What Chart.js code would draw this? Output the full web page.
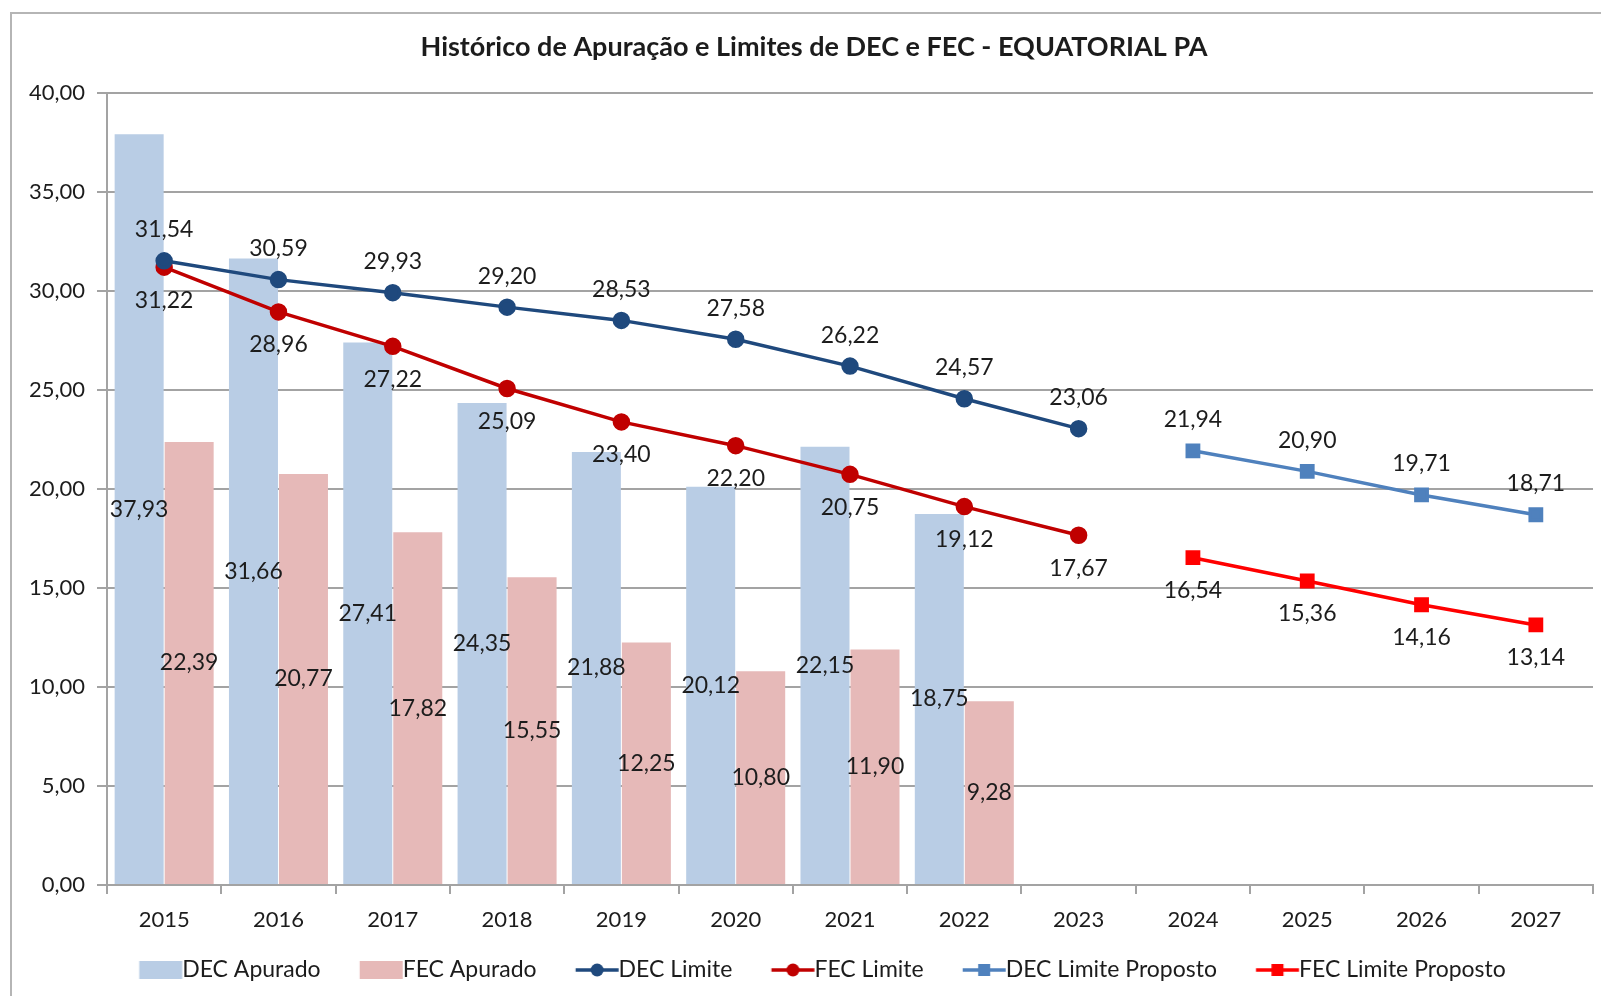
<!DOCTYPE html>
<html>
<head>
<meta charset="utf-8">
<script src="https://cdn.jsdelivr.net/npm/chart.js@4.4.1/dist/chart.umd.min.js"></script>
<style>
  html, body { margin: 0; padding: 0; overflow: hidden; background: #fff; }
  #wrap { width: 1628px; height: 996px; }
</style>
</head>
<body>
<div id="wrap"><canvas id="chart" width="1628" height="996"></canvas></div>
<script>
const years = ['2015','2016','2017','2018','2019','2020','2021','2022','2023','2024','2025','2026','2027'];
const decApurado = [37.93, 31.66, 27.41, 24.35, 21.88, 20.12, 22.15, 18.75, null, null, null, null, null];
const fecApurado = [22.39, 20.77, 17.82, 15.55, 12.25, 10.80, 11.90, 9.28, null, null, null, null, null];
const decLimite = [31.54, 30.59, 29.93, 29.20, 28.53, 27.58, 26.22, 24.57, 23.06, null, null, null, null];
const fecLimite = [31.22, 28.96, 27.22, 25.09, 23.40, 22.20, 20.75, 19.12, 17.67, null, null, null, null];
const decProposto = [null, null, null, null, null, null, null, null, null, 21.94, 20.90, 19.71, 18.71];
const fecProposto = [null, null, null, null, null, null, null, null, null, 16.54, 15.36, 14.16, 13.14];
const yTicks = [0, 5, 10, 15, 20, 25, 30, 35, 40];

const FONT = 'Lato';
const TEXT = '#1c1c1c';
const GRID = '#a3a3a3';

const fmt = v => v.toFixed(2).replace('.', ',');

// legend icons: filled box for bars, line + marker for lines
// the visible part is 43px wide and sits at an offset inside a wider canvas,
// so the label text starts just after it
function icon(kind, color) {
  const c = document.createElement('canvas');
  c.width = 80; c.height = 18;
  const g = c.getContext('2d');
  const a = 32.75;
  g.fillStyle = color; g.strokeStyle = color;
  if (kind === 'box') {
    g.fillRect(a, 0, 43, 18);
  } else {
    g.lineWidth = 3.5;
    g.beginPath(); g.moveTo(a, 9); g.lineTo(a + 43, 9); g.stroke();
    if (kind === 'circle') {
      g.beginPath(); g.arc(a + 21.5, 9, 6.5, 0, Math.PI * 2); g.fill();
    } else {
      g.fillRect(a + 15.5, 3, 12, 12);
    }
  }
  return c;
}

const labelPos = ['center', 'center', 'above', 'below', 'above', 'below'];

const valueLabels = {
  id: 'valueLabels',
  afterDatasetsDraw(chart) {
    const ctx = chart.ctx;
    ctx.save();
    ctx.font = '23px ' + FONT;
    ctx.fillStyle = TEXT;
    ctx.textAlign = 'center';
    ctx.textBaseline = 'middle';
    chart.data.datasets.forEach((ds, i) => {
      chart.getDatasetMeta(i).data.forEach((el, j) => {
        const v = ds.data[j];
        if (v == null) return;
        let y;
        if (labelPos[i] === 'center') y = (el.y + el.base) / 2;
        else if (labelPos[i] === 'above') y = el.y - 31;
        else y = el.y + 33;
        ctx.fillText(fmt(v), el.x, y);
      });
    });
    ctx.restore();
  }
};

const frame = {
  id: 'frame',
  beforeDraw(chart) {
    const ctx = chart.ctx;
    ctx.save();
    ctx.fillStyle = '#fff';
    ctx.fillRect(0, 0, chart.width, chart.height);
    ctx.strokeStyle = '#b5b5b5';
    ctx.lineWidth = 2;
    ctx.strokeRect(11, 13, 2000, 2000);
    ctx.restore();
  }
};

const icons = [
  icon('box', '#b9cde5'),
  icon('box', '#e6b9b8'),
  icon('circle', '#1f497d'),
  icon('circle', '#c00000'),
  icon('square', '#4f81bd'),
  icon('square', '#ff0000')
];

new Chart(document.getElementById('chart'), {
  type: 'bar',
  data: {
    labels: years,
    datasets: [
      { label: 'DEC Apurado', data: decApurado, backgroundColor: '#b9cde5', order: 2,
        categoryPercentage: 0.875, barPercentage: 0.98 },
      { label: 'FEC Apurado', data: fecApurado, backgroundColor: '#e6b9b8', order: 2,
        categoryPercentage: 0.875, barPercentage: 0.98 },
      { type: 'line', label: 'DEC Limite', data: decLimite, borderColor: '#1f497d', backgroundColor: '#1f497d',
        borderWidth: 3.5, pointRadius: 7, pointStyle: 'circle', order: 1 },
      { type: 'line', label: 'FEC Limite', data: fecLimite, borderColor: '#c00000', backgroundColor: '#c00000',
        borderWidth: 3.5, pointRadius: 7, pointStyle: 'circle', order: 1 },
      { type: 'line', label: 'DEC Limite Proposto', data: decProposto, borderColor: '#4f81bd', backgroundColor: '#4f81bd',
        borderWidth: 3.5, pointRadius: 8, pointStyle: 'rect', order: 1 },
      { type: 'line', label: 'FEC Limite Proposto', data: fecProposto, borderColor: '#ff0000', backgroundColor: '#ff0000',
        borderWidth: 3.5, pointRadius: 8, pointStyle: 'rect', order: 1 }
    ]
  },
  options: {
    responsive: false,
    animation: false,
    layout: { padding: { top: 0, left: 0, right: 0, bottom: 4.5 } },
    plugins: {
      tooltip: { enabled: false },
      title: {
        display: true,
        text: 'Histórico de Apuração e Limites de DEC e FEC - EQUATORIAL PA',
        color: TEXT,
        font: { family: FONT, size: 27, weight: 'bold' },
        padding: { top: 31, bottom: 30 }
      },
      legend: {
        position: 'bottom',
        labels: {
          color: TEXT,
          font: { family: FONT, size: 23 },
          usePointStyle: true,
          pointStyleWidth: 48.5,
          padding: 22,
          generateLabels: chart => chart.data.datasets.map((ds, i) => ({
            text: ds.label,
            pointStyle: icons[i],
            fillStyle: 'transparent',
            strokeStyle: 'transparent',
            lineWidth: 0,
            fontColor: TEXT,
            datasetIndex: i
          }))
        }
      }
    },
    scales: {
      x: {
        grid: { offset: true, drawOnChartArea: false, drawTicks: true, tickLength: 9, color: GRID, lineWidth: 2 },
        border: { color: GRID, width: 2 },
        ticks: { color: TEXT, font: { family: FONT, size: 22 }, padding: 13 },
        afterFit: s => { s.height = 51.5; }
      },
      y: {
        min: 0, max: 40,
        afterBuildTicks: s => { s.ticks = yTicks.map(v => ({ value: v })); },
        grid: { color: GRID, lineWidth: 2, tickLength: 10 },
        border: { color: GRID, width: 2 },
        ticks: { color: TEXT, font: { family: FONT, size: 22 }, padding: 12, callback: v => fmt(v) },
        afterFit: s => { s.width = 107; }
      },
      // empty right-hand axis, only to leave the margin right of the plot
      yRight: {
        position: 'right',
        grid: { drawOnChartArea: false, drawTicks: false },
        border: { display: false },
        ticks: { display: false },
        afterFit: s => { s.width = 35; }
      }
    }
  },
  plugins: [frame, valueLabels]
});
</script>
</body>
</html>
